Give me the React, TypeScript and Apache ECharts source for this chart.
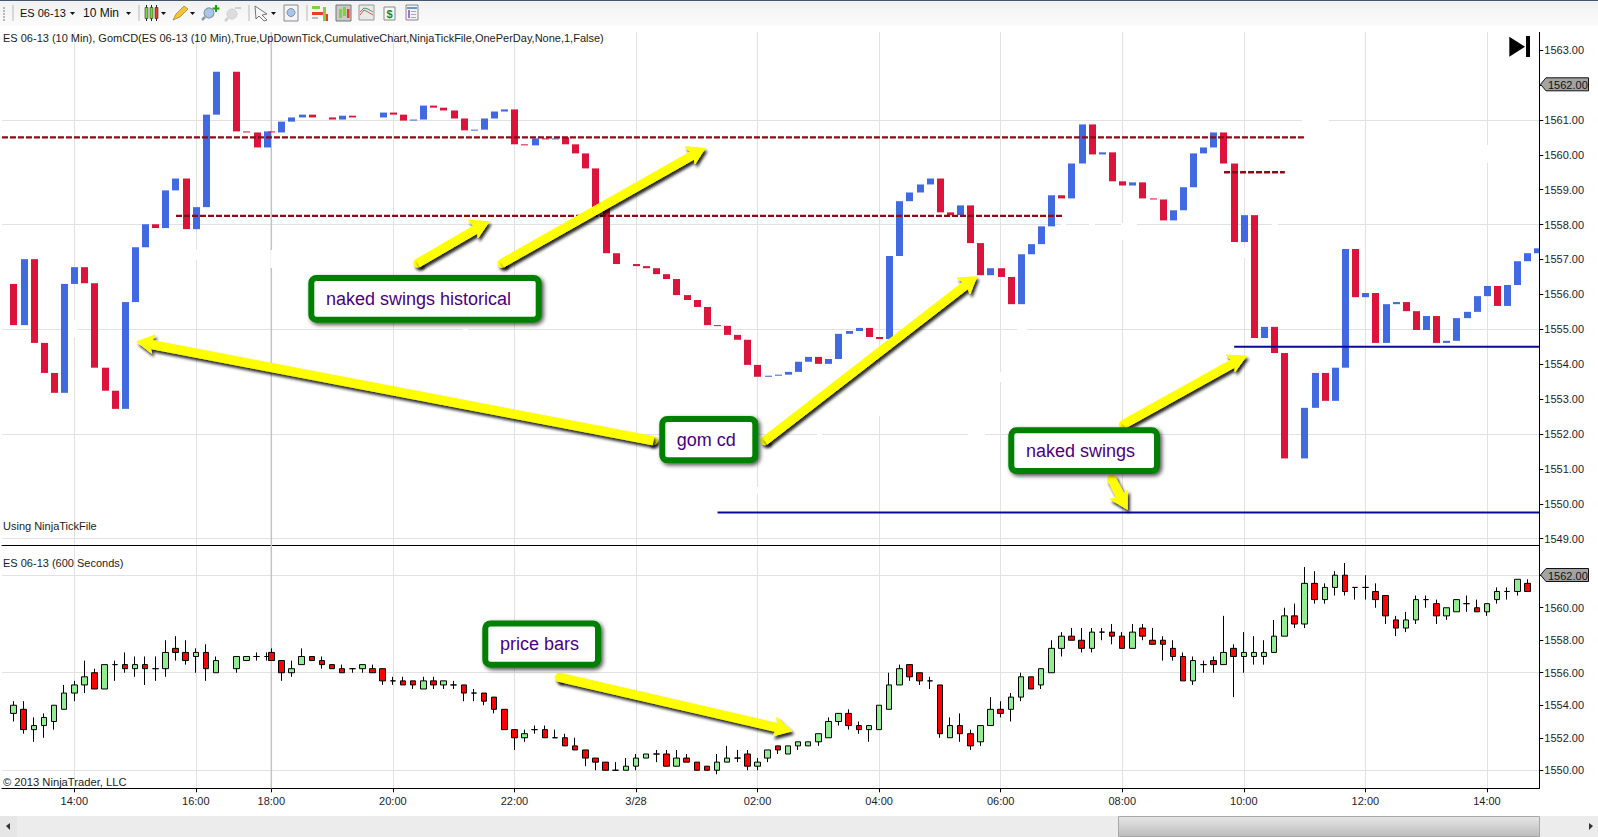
import React, { useEffect, useRef } from "react";
import * as echarts from "echarts";

// ---------- data ----------
type Pair = [number, number] | null;
type Ohlc = [number, number, number, number] | null;

// GomCD cumulative delta bars, drawn on the price scale: [open, close]
const gomBars: Pair[] = [
  [1556.3,1555.12],[1555.12,1557.01],[1557.01,1554.61],[1554.61,1553.75],[1553.75,1553.18],[1553.18,1556.3],[1556.3,1556.78],[1556.78,1556.32],
  [1556.32,1553.9],[1553.9,1553.24],[1553.24,1552.72],[1552.72,1555.78],[1555.78,1557.35],[1557.35,1558.01],[1558.01,1557.9],[1557.9,1558.98],
  [1558.98,1559.32],[1559.32,1557.87],[1557.87,1558.5],[1558.5,1561.15],[1561.15,1562.38],null,[1562.38,1560.67],[1560.67,1560.64],
  [1560.64,1560.21],[1560.21,1560.67],[1560.67,1560.64],[1560.64,1560.95],[1560.95,1561.07],[1561.07,1561.15],[1561.15,1561.07],null,
  [1561.07,1561.01],[1561.01,1561.12],[1561.12,1561.07],null,null,[1561.07,1561.21],[1561.21,1561.15],[1561.15,1560.98],
  [1560.98,1561.01],[1561.01,1561.41],[1561.41,1561.35],[1561.35,1561.27],[1561.27,1561.04],[1561.04,1560.7],[1560.7,1560.72],[1560.72,1561.04],
  [1561.04,1561.24],[1561.24,1561.3],[1561.3,1560.3],[1560.3,1560.27],[1560.27,1560.47],[1560.47,1560.44],[1560.44,1560.47],[1560.5,1560.3],
  [1560.3,1560.04],[1560.04,1559.61],[1559.61,1558.49],[1558.49,1557.18],[1557.18,1556.87],null,[1556.87,1556.81],[1556.81,1556.75],
  [1556.75,1556.58],[1556.58,1556.44],[1556.44,1555.98],[1555.98,1555.84],[1555.84,1555.64],[1555.64,1555.12],[1555.12,1555.1],[1555.1,1554.84],
  [1554.84,1554.7],[1554.7,1553.98],[1553.98,1553.64],[1553.64,1553.67],[1553.67,1553.7],[1553.7,1553.78],[1553.78,1554.07],[1554.07,1554.21],
  [1554.21,1554.01],[1554.01,1554.15],[1554.15,1554.87],[1554.87,1554.95],[1554.95,1555.04],[1555.04,1554.78],[1554.78,1554.72],[1554.72,1557.1],
  [1557.1,1558.67],[1558.67,1558.92],[1558.92,1559.15],[1559.15,1559.32],[1559.32,1558.35],[1558.35,1558.27],[1558.27,1558.55],[1558.55,1557.47],
  [1557.47,1556.55],[1556.55,1556.75],[1556.75,1556.5],[1556.5,1555.72],[1555.72,1557.15],[1557.15,1557.44],[1557.44,1557.95],[1557.95,1558.84],
  [1558.84,1558.75],[1558.75,1559.75],[1559.75,1560.87],[1560.87,1560.01],[1560.01,1560.07],[1560.07,1559.24],[1559.24,1559.12],[1559.12,1559.21],
  [1559.21,1558.75],[1558.75,1558.72],[1558.72,1558.12],[1558.12,1558.41],[1558.41,1559.07],[1559.07,1560.04],[1560.04,1560.21],[1560.21,1560.64],
  [1560.64,1559.75],[1559.75,1557.5],[1557.5,1558.27],[1558.27,1554.75],[1554.75,1555.07],[1555.07,1554.32],[1554.32,1551.3],null,
  [1551.3,1552.75],[1552.75,1553.75],[1553.75,1552.95],[1552.95,1553.9],[1553.9,1557.3],[1557.3,1555.92],[1555.92,1556.04],[1556.04,1554.61],
  [1554.61,1555.72],[1555.72,1555.78],[1555.78,1555.52],[1555.52,1554.98],[1554.98,1555.38],[1555.38,1554.61],[1554.61,1554.67],[1554.67,1555.32],
  [1555.32,1555.5],[1555.5,1555.95],[1555.95,1556.24],[1556.24,1555.67],[1555.67,1556.27],[1556.27,1556.95],[1556.95,1557.18],[1557.18,1557.32],
];

// ES 06-13 600-second candles: [open, high, low, close]
const priceBars: Ohlc[] = [
  [1553.5,1554.25,1553,1554],[1553.75,1554.25,1552.25,1552.5],[1552.5,1553.25,1551.75,1552.75],[1552.75,1553.5,1552,1553.25],
  [1553,1554,1552.5,1554],[1553.75,1555.25,1553.75,1554.75],[1554.75,1555.5,1554.25,1555.25],[1555.25,1556.75,1554.75,1555.75],
  [1556,1556.25,1555,1555],[1555,1556.5,1555,1556.5],[1556.5,1556.75,1555.5,1556.5],[1556.5,1557.25,1556,1556.25],
  [1556.25,1557,1555.75,1556.5],[1556.5,1557,1555.25,1556.25],[1556.25,1557,1555.5,1556.25],[1556.25,1558,1555.75,1557.25],
  [1557.5,1558.25,1556.75,1557.25],[1557.25,1558,1556.5,1556.75],[1557,1557.5,1556,1557.25],[1557.25,1557.75,1555.5,1556.25],
  [1556,1557,1556,1556.75],null,[1556.25,1557,1556,1557],[1556.75,1557,1556.75,1557],
  [1557,1557.25,1556.75,1557],[1557,1557.25,1556.75,1557],[1557.25,1557.5,1556.75,1556.75],[1556.75,1556.75,1555.5,1556],
  [1556,1556.75,1555.75,1556.25],[1556.5,1557.5,1556.5,1557],[1557,1557,1556.75,1556.75],[1556.75,1557,1556.25,1556.5],
  [1556.5,1556.5,1556.25,1556.25],[1556.25,1556.5,1556,1556],[1556.25,1556.25,1556,1556.25],[1556.25,1556.5,1556,1556.5],
  [1556.25,1556.5,1556,1556],[1556.25,1556.25,1555.25,1555.5],[1555.5,1555.75,1555.25,1555.5],[1555.5,1555.75,1555.25,1555.25],
  [1555.5,1555.5,1555,1555.25],[1555,1555.75,1555,1555.5],[1555.5,1555.75,1555,1555.25],[1555.25,1555.5,1555,1555.5],
  [1555.25,1555.5,1555,1555.25],[1555.25,1555.25,1554.25,1554.75],[1554.75,1555,1554.25,1554.75],[1554.75,1554.75,1554,1554.25],
  [1554.5,1554.5,1553.5,1553.75],[1553.75,1553.75,1552.5,1552.5],[1552.5,1552.5,1551.25,1552],[1552,1552.5,1551.75,1552.25],
  [1552.5,1552.75,1552.25,1552.5],[1552.5,1552.75,1552,1552],[1552,1552.5,1552,1552],[1552,1552.25,1551.5,1551.5],
  [1551.5,1552,1551.25,1551.25],[1551.25,1551.25,1550.25,1550.75],[1550.75,1550.75,1550,1550.5],[1550.5,1550.5,1550,1550],
  [1550,1550.5,1550,1550],[1550,1550.75,1550,1550.25],[1550.25,1551,1550,1550.75],[1550.75,1551,1550.75,1551],
  [1551,1551.25,1550.5,1551],[1551,1551.25,1550.25,1550.25],[1550.25,1551.25,1550.25,1550.75],[1550.75,1551,1550.5,1550.5],
  [1550.5,1550.5,1550,1550],[1550.25,1550.25,1550,1550],[1550,1551,1549.75,1550.5],[1550.5,1551.5,1550.5,1550.75],
  [1550.75,1551.25,1550.5,1550.75],[1551,1551.25,1550,1550.25],[1550.25,1550.75,1550,1550.5],[1550.75,1551.25,1550.5,1551.25],
  [1551.5,1551.5,1551,1551.25],[1551,1551.5,1551,1551.5],[1551.5,1551.75,1551.25,1551.75],[1551.5,1551.75,1551.5,1551.75],
  [1551.75,1552.25,1551.5,1552.25],[1552,1553.25,1552,1553],[1553,1553.5,1552.75,1553.5],[1553.5,1553.75,1552.5,1552.75],
  [1552.75,1553,1552.25,1552.5],[1552.5,1552.75,1551.75,1552.75],[1552.5,1554,1552.5,1554],[1553.75,1556,1553.75,1555.25],
  [1555.25,1556.5,1555.25,1556.25],[1556.5,1556.5,1555.5,1555.75],[1556,1556,1555.25,1555.5],[1555.5,1555.75,1555,1555.5],
  [1555.25,1555.25,1552,1552.25],[1552,1553.25,1552,1552.75],[1552.75,1553.5,1551.75,1552.25],[1552.25,1552.5,1551.25,1551.5],
  [1551.75,1552.75,1551.5,1552.75],[1552.75,1554.5,1552.75,1553.75],[1553.75,1554.25,1553.25,1553.5],[1553.75,1554.75,1553,1554.5],
  [1554.5,1556,1554.25,1555.75],[1555.75,1555.75,1555,1555],[1555.25,1556.25,1555,1556.25],[1556,1558,1556,1557.5],
  [1557.5,1558.5,1557,1558.25],[1558.25,1558.75,1558,1558],[1558,1558.75,1557.25,1557.5],[1557.5,1558.75,1557.25,1558.5],
  [1558.5,1558.75,1558,1558.5],[1558.5,1559,1557.75,1558.25],[1558.25,1558.5,1557.5,1557.5],[1557.5,1559,1557.5,1558.5],
  [1558.75,1559,1558,1558.25],[1558,1558.75,1557.75,1557.75],[1558,1558.25,1556.75,1557.75],[1557.5,1558,1556.75,1557],
  [1557,1557.25,1555.5,1555.5],[1555.5,1557,1555.25,1556.75],[1556.5,1556.75,1556,1556.5],[1556.75,1557,1556,1556.5],
  [1556.5,1559.5,1556.5,1557.25],[1557.5,1557.75,1554.5,1557],[1557,1558.5,1556,1557.25],[1557,1558.25,1556.5,1557.25],
  [1557,1558,1556.5,1557.25],[1557.25,1559.25,1557.25,1558.25],[1558.25,1560,1558.25,1559.5],[1559.5,1560.25,1558.75,1559],
  [1559,1562.5,1558.75,1561.5],[1561.5,1562.25,1560.25,1560.5],[1560.5,1561.5,1560.25,1561.25],[1561.25,1562.25,1560.75,1562],
  [1562,1562.75,1560.75,1561],[1561.25,1561.25,1560.5,1561.25],[1561.25,1562,1560.5,1561.25],[1561,1561.5,1560,1560.5],
  [1560.75,1560.75,1559,1559.5],[1559.25,1559.5,1558.25,1558.75],[1558.75,1559.75,1558.5,1559.25],[1559.25,1560.75,1559,1560.5],
  [1560.5,1560.75,1560,1560.5],[1560.25,1560.5,1559,1559.5],[1559.5,1560,1559.25,1560],[1559.75,1560.5,1559.75,1560.5],
  [1560.25,1560.75,1559.75,1560.25],[1560,1560.5,1559.75,1559.75],[1559.75,1560.25,1559.5,1560.25],[1560.5,1561.25,1560.25,1561],
  [1561,1561.25,1560.5,1561],[1561,1561.75,1560.75,1561.75],[1561.5,1561.75,1561,1561],
];

// horizontal swing levels: [start slot, end slot, price]
const historicalSwings: [number, number, number][] = [[-1.14, 127.4, 1560.5], [16.04, 103.6, 1558.25], [119.5, 125.5, 1559.5]];
const nakedSwings: [number, number, number][] = [[120.5, 150.62, 1554.5], [69.5, 150.62, 1549.75]];

// time-axis ticks: [slot, label]
const timeTicks: [number, string][] = [
  [6, "14:00"], [18, "16:00"], [25.45, "18:00"], [37.45, "20:00"], [49.45, "22:00"], [61.45, "3/28"], [73.45, "02:00"],
  [85.45, "04:00"], [97.45, "06:00"], [109.45, "08:00"], [121.45, "10:00"], [133.45, "12:00"], [145.45, "14:00"],
];
const sessionBreakSlot = 25.45;
const gomTicks = [1549, 1550, 1551, 1552, 1553, 1554, 1555, 1556, 1557, 1558, 1559, 1560, 1561, 1562, 1563];
const gomGrid = [1549, 1552, 1555, 1558, 1561];
const priceTicks = [1550, 1552, 1554, 1556, 1558, 1560, 1562];
const priceGrid = [1550, 1556, 1562];
const lastPriceValue = 1562;
const lastPrice = "1562.00";

const titleTop = "ES 06-13 (10 Min), GomCD(ES 06-13 (10 Min),True,UpDownTick,CumulativeChart,NinjaTickFile,OnePerDay,None,1,False)";
const noteTop = "Using NinjaTickFile";
const titleBottom = "ES 06-13 (600 Seconds)";
const copyright = "© 2013 NinjaTrader, LLC";

// one bar per number; the session break compresses the slots after bar 25
const slotOf = (i: number) => (i <= 25 ? i : i - 0.55);

const FONT = "'Liberation Sans', Arial, sans-serif";
const BLUE = "#4169E1";
const CRIMSON = "#DC143C";
const GRID = "#e2e2e2";
const X_MIN = -1.135;
const X_MAX = 150.62;

const r = (x: number, y: number, width: number, height: number, fill: string, extra: any = {}) => ({
  type: "rect", silent: true, shape: { x, y, width, height, ...(extra.shape || {}) }, style: { fill, ...(extra.style || {}) }, z: extra.z ?? 100,
});
const t = (text: string, x: number, y: number, size: number, fill = "#1c1c1c", extra: any = {}) => ({
  type: "text", silent: true, z: 110,
  style: { text, x, y, fontSize: size, fontFamily: FONT, fill, textVerticalAlign: "middle", textAlign: "left", ...extra },
});
const poly = (points: number[][], fill: string, extra: any = {}) => ({
  type: "polygon", silent: true, z: extra.z ?? 105, shape: { points }, style: { fill, ...(extra.style || {}) },
});
const line = (x1: number, y1: number, x2: number, y2: number, stroke: string, lineWidth = 1) => ({
  type: "line", silent: true, z: 105, shape: { x1, y1, x2, y2 }, style: { stroke, lineWidth },
});

function arrow(start: number[], tip: number[], w1: number[], w2: number[], half = 4.1) {
  const dx = tip[0] - start[0];
  const dy = tip[1] - start[1];
  const len = Math.hypot(dx, dy);
  const ux = dx / len, uy = dy / len;
  const nx = -uy, ny = ux;
  const headDist = ((w1[0] + w2[0]) / 2 - start[0]) * ux + ((w1[1] + w2[1]) / 2 - start[1]) * uy + 2;
  const jx = start[0] + ux * headDist, jy = start[1] + uy * headDist;
  const sameSide = (w1[0] - start[0]) * nx + (w1[1] - start[1]) * ny > 0;
  const a = sameSide ? w1 : w2;
  const b = sameSide ? w2 : w1;
  const pts = [
    [start[0] + nx * half, start[1] + ny * half],
    [jx + nx * half, jy + ny * half],
    a,
    tip,
    b,
    [jx - nx * half, jy - ny * half],
    [start[0] - nx * half, start[1] - ny * half],
  ];
  const shadow = { shadowBlur: 3, shadowColor: "rgba(0,0,0,0.85)", shadowOffsetX: 2, shadowOffsetY: 3 };
  return [
    { type: "circle", silent: true, z: 120, shape: { cx: start[0], cy: start[1], r: half + 0.4 }, style: { fill: "#FFFF00", ...shadow } },
    { type: "polygon", silent: true, z: 120, shape: { points: pts }, style: { fill: "#FFFF00", stroke: "#FFFF00", lineWidth: 1, lineJoin: "round", ...shadow } },
  ];
}

function callout(x1: number, y1: number, x2: number, y2: number, text: string, tx: number, ty: number) {
  return [
    {
      type: "rect", silent: true, z: 125,
      shape: { x: x1 + 3, y: y1 + 3, width: x2 - x1 - 6, height: y2 - y1 - 6, r: 5 },
      style: { fill: "#ffffff", stroke: "#008000", lineWidth: 6, shadowBlur: 4, shadowColor: "rgba(0,0,0,0.7)", shadowOffsetX: 2, shadowOffsetY: 2 },
    },
    { ...t(text, tx, ty, 18, "#4B0082"), z: 126 },
  ];
}

function caret(x: number, y: number) {
  return poly([[x, y], [x + 5, y], [x + 2.5, y + 3]], "#111");
}

function miniCandle(x: number, fill: string) {
  return [r(x + 1, 5, 1, 16, "#222"), r(x, 7.5, 3, 11, fill, { style: { stroke: "#333", lineWidth: 0.6 }, z: 101 })];
}

function toolbar() {
  const els: any[] = [];
  els.push({
    type: "rect", silent: true, z: 100, shape: { x: 0, y: 0, width: 1598, height: 26 },
    style: { fill: new echarts.graphic.LinearGradient(0, 0, 0, 1, [{ offset: 0, color: "#f1f1f1" }, { offset: 1, color: "#fbfbfb" }]) },
  });
  els.push(r(0, 0, 1598, 1, "#44566a"));
  for (let y = 7; y <= 19; y += 3) els.push(r(3, y, 2, 2, "#b8b8b8", { z: 101 }));
  for (const x of [12.5, 138.5, 248.5, 306.5]) els.push(r(x, 5, 1, 16, "#b9b9b9", { z: 101 }));
  els.push(t("ES 06-13", 20, 13, 11, "#111"));
  els.push(caret(70, 12));
  els.push(t("10 Min", 83, 13, 12, "#111"));
  els.push(caret(126, 12));
  // candlestick icon
  els.push(...miniCandle(145, "#7fd33a"), ...miniCandle(150, "#7fd33a"), ...miniCandle(155, "#ea3a2a"));
  els.push(caret(161, 12));
  // pencil
  els.push(poly([[173, 20], [176, 14], [184, 6], [188, 9], [180, 17]], "#f3c338", { style: { stroke: "#8a6a10", lineWidth: 0.6 } }));
  els.push(caret(190, 12));
  // zoom glass in / out
  els.push({ type: "circle", silent: true, z: 105, shape: { cx: 209, cy: 13, r: 5 }, style: { fill: "#a9c6ea", stroke: "#8d99a8", lineWidth: 1.2 } });
  els.push(line(205, 17, 202, 20, "#8d99a8", 2.5));
  els.push(r(215, 5, 2, 7, "#16a316"), r(212.5, 7.5, 7, 2, "#16a316"));
  els.push({ type: "circle", silent: true, z: 105, shape: { cx: 232, cy: 14, r: 5 }, style: { fill: "#dcdcdc", stroke: "#cfcfcf", lineWidth: 1 } });
  els.push(line(228, 18, 225, 21, "#cfcfcf", 2.5), r(235, 7, 6, 2, "#cfcfcf"));
  // cursor
  els.push(poly([[255, 6], [267, 14], [262, 15], [267, 20], [264, 21], [259, 16], [256, 19]], "#f7f7f7", { style: { stroke: "#555", lineWidth: 0.8 } }));
  els.push(caret(271, 12));
  // box + glass
  els.push(r(284, 5, 14, 16, "#f4f4f4", { style: { stroke: "#8a8a8a", lineWidth: 1 } }));
  els.push({ type: "circle", silent: true, z: 106, shape: { cx: 291, cy: 12.5, r: 4 }, style: { fill: "#a9c6ea", stroke: "#7e93a8", lineWidth: 1 } });
  // bars icon
  els.push(r(312, 6, 8, 3, "#7fd33a"), r(312, 12, 11, 3, "#ea3a2a"), r(312, 17, 6, 2, "#bdbdbd"));
  els.push(r(323, 7, 3, 14, "#7fd33a"), r(326, 14, 2, 7, "#ea3a2a"));
  // chart icons
  els.push(r(336, 5, 15, 16, "#c9c9c9", { style: { stroke: "#777", lineWidth: 1 } }));
  els.push(r(339, 9, 3, 9, "#7fd33a"), r(343, 7, 3, 9, "#7fd33a"), r(347, 9, 2.5, 9, "#ea3a2a"));
  els.push(r(359, 5, 15, 15, "#e9e9e9", { style: { stroke: "#999", lineWidth: 1 } }));
  els.push({ type: "polyline", silent: true, z: 106, shape: { points: [[360, 15], [364, 10], [368, 12], [373, 15]] }, style: { stroke: "#e05050", fill: "none", lineWidth: 1 } });
  els.push({ type: "polyline", silent: true, z: 106, shape: { points: [[360, 12], [364, 8], [368, 9], [373, 12]] }, style: { stroke: "#3fa060", fill: "none", lineWidth: 1 } });
  els.push(r(384, 7, 11, 13, "#fafafa", { style: { stroke: "#888", lineWidth: 1 } }));
  els.push({ ...t("$", 386.5, 14, 11, "#1a8a1a", { fontWeight: "bold" }) });
  els.push(r(406, 5, 12, 15, "#f1f1f8", { style: { stroke: "#888", lineWidth: 1 } }));
  els.push(r(407, 7, 10, 2, "#5f9ed0"), r(408, 10, 2, 8, "#a26ee0"), r(411, 11, 5, 1, "#aaa"), r(411, 14, 5, 1, "#aaa"), r(411, 17, 5, 1, "#aaa"));
  return els;
}

function bottomBar() {
  const els: any[] = [];
  els.push(r(0, 816, 1598, 21, "#ececec"));
  els.push(r(0, 816, 17, 21, "#e6e6e6", { z: 101 }));
  els.push(poly([[6, 826], [10, 823], [10, 830]], "#333"));
  els.push(poly([[1593, 826], [1589, 823], [1589, 830]], "#333"));
  els.push({
    type: "rect", silent: true, z: 101, shape: { x: 1118.5, y: 816.5, width: 421, height: 20 },
    style: { fill: new echarts.graphic.LinearGradient(0, 0, 0, 1, [{ offset: 0, color: "#e6e6e6" }, { offset: 1, color: "#bcbcbc" }]), stroke: "#a8a8a8", lineWidth: 1 },
  });
  for (const x of [1326, 1328, 1330, 1332]) els.push(r(x, 823, 1, 7, "#555"));
  return els;
}

function priceTag(y: number) {
  return [
    poly([[1540.5, y], [1546, y - 6.5], [1588.5, y - 6.5], [1588.5, y + 6.5], [1546, y + 6.5]], "#a3a3a3", { style: { stroke: "#111", lineWidth: 1 } }),
    t(lastPrice, 1548, y + 0.5, 11, "#111"),
  ];
}

// small white erasures on the grid left in the screenshot
function gridErasures() {
  const v = [[195, 250, 10], [270.5, 250, 18], [73, 320, 17], [757, 487, 7], [878, 365, 51], [1000, 372, 10], [1121, 223, 17], [1243, 248, 10], [1486, 145, 18]];
  const h = [[1061, 223, 5], [1089, 223, 6], [1122, 223, 15], [1272, 223, 6], [1302, 118, 27], [1017, 328, 10], [68, 328, 10], [463, 328, 5], [817, 432, 5], [968, 432, 17]];
  return [
    ...v.map(([x, y, l]) => r(x, y, 3, l, "#fff", { z: 2 })),
    ...h.map(([x, y, l]) => r(x, y, l, 3, "#fff", { z: 2 })),
  ];
}

const App = () => {
  const ref = useRef<HTMLDivElement>(null);
  useEffect(() => {
    document.body.style.margin = "0";
    document.documentElement.style.overflow = "hidden";
    const chart = echarts.init(ref.current!, undefined, { renderer: "svg" });

    const gomData = gomBars.map((b, i) => (b ? [slotOf(i), b[0], b[1]] : null)).filter(Boolean);
    const candleData = priceBars
      .map((b, i) => (b ? [slotOf(i), b[0], b[3], b[2], b[1]] : null))
      .filter(Boolean);

    const tickValues = timeTicks.map((d) => d[0]);
    const labelFor = (v: number) => {
      const hit = timeTicks.find((d) => Math.abs(d[0] - v) < 0.01);
      return hit ? hit[1] : "";
    };
    const levelSeries = (rows: [number, number, number][], color: string, type: any, width: number) =>
      rows.map((row) => ({
        type: "line", xAxisIndex: 0, yAxisIndex: 0, showSymbol: false, silent: true, z: 6,
        data: [[row[0], row[2]], [row[1], row[2]]],
        lineStyle: { color, width, type },
      }));
    const breakLine = (xi: number, yi: number, lo: number, hi: number) => ({
      type: "line", xAxisIndex: xi, yAxisIndex: yi, showSymbol: false, silent: true, z: 1,
      data: [[sessionBreakSlot, lo], [sessionBreakSlot, hi]],
      lineStyle: { color: "#c4c4c4", width: 1.5 },
    });

    const xBase = { type: "value", min: X_MIN, max: X_MAX, scale: true };
    const TOP_MIN = 1548.82, TOP_MAX = 1563.69, BOT_MIN = 1548.89, BOT_MAX = 1563.86;
    const hiddenY = (gridIndex: number, min: number, max: number, vals: number[]) => ({
      type: "value", gridIndex, min, max, scale: true, position: "left",
      axisLine: { show: false }, axisLabel: { show: false },
      axisTick: { show: false, customValues: vals },
      splitLine: { show: true, lineStyle: { color: GRID, width: 1 } },
    });
    const shownY = (gridIndex: number, min: number, max: number, vals: number[], padTop: number) => ({
      type: "value", gridIndex, min, max, scale: true, position: "right",
      axisLine: { show: true, onZero: false, lineStyle: { color: "#000", width: 1 } },
      axisTick: { show: true, length: 4, customValues: vals, lineStyle: { color: "#000" } },
      axisLabel: {
        show: true, fontFamily: FONT, fontSize: 11, color: "#1c1c2c", margin: 5, padding: [padTop, 0, 0, 0],
        // the last price is carried by its grey tag instead of a plain label
        customValues: vals.filter((v) => v !== lastPriceValue),
        formatter: (v: number) => v.toFixed(2),
      },
      splitLine: { show: false },
    });

    chart.setOption({
      animation: false,
      backgroundColor: "#ffffff",
      grid: [
        { left: 2, width: 1537.3, top: 26, height: 519, containLabel: false },
        { left: 2, width: 1537.3, top: 545, height: 243.3, containLabel: false },
      ],
      xAxis: [
        {
          ...xBase, gridIndex: 0,
          axisLine: { show: true, onZero: false, lineStyle: { color: "#000", width: 1 } },
          axisTick: { show: false, customValues: tickValues },
          axisLabel: { show: false },
          splitLine: { show: true, lineStyle: { color: GRID, width: 1 } },
        },
        {
          ...xBase, gridIndex: 1,
          axisLine: { show: true, onZero: false, lineStyle: { color: "#000", width: 1 } },
          axisTick: { show: true, length: 4, customValues: tickValues, lineStyle: { color: "#000" } },
          axisLabel: { show: true, customValues: tickValues, formatter: labelFor, fontFamily: FONT, fontSize: 11, color: "#1c1c2c", margin: 7, hideOverlap: false },
          splitLine: { show: true, lineStyle: { color: GRID, width: 1 } },
        },
      ],
      yAxis: [
        shownY(0, TOP_MIN, TOP_MAX, gomTicks, 0),
        hiddenY(0, TOP_MIN, TOP_MAX, gomGrid),
        shownY(1, BOT_MIN, BOT_MAX, priceTicks, 2),
        hiddenY(1, BOT_MIN, BOT_MAX, priceGrid),
      ],
      series: [
        breakLine(0, 0, TOP_MIN, TOP_MAX),
        breakLine(1, 2, BOT_MIN, BOT_MAX),
        {
          type: "custom", xAxisIndex: 0, yAxisIndex: 0, z: 4, clip: true, silent: true,
          encode: { x: 0, y: [1, 2] },
          data: gomData,
          renderItem: (_p: any, api: any) => {
            const x = api.value(0), o = api.value(1), c = api.value(2);
            const a = api.coord([x, o]), b = api.coord([x, c]);
            const w = 7;
            const top = Math.min(a[1], b[1]);
            const h = Math.max(Math.abs(a[1] - b[1]), 1);
            const rect = echarts.graphic.clipRectByRect(
              { x: Math.round(a[0] - w / 2 + 0.4), y: top, width: w, height: h },
              { x: _p.coordSys.x, y: _p.coordSys.y, width: _p.coordSys.width, height: _p.coordSys.height },
            );
            return rect ? { type: "rect", shape: rect, style: { fill: c >= o ? BLUE : CRIMSON } } : null;
          },
        },
        ...levelSeries(historicalSwings, "#8B0A14", [6, 2], 2.4),
        ...levelSeries(nakedSwings, "#0A0A96", "solid", 2),
        {
          type: "candlestick", xAxisIndex: 1, yAxisIndex: 2, z: 4, silent: true,
          barWidth: 6,
          encode: { x: 0, y: [1, 2, 3, 4] },
          data: candleData,
          itemStyle: {
            color: "#90EE90", color0: "#FF0000",
            borderColor: "#000", borderColor0: "#000", borderColorDoji: "#000", borderWidth: 1,
          },
        },
      ],
      graphic: {
        elements: [
          ...gridErasures(),
          r(0, 26, 1598, 6, "#ffffff", { z: 90 }),
          ...toolbar(),
          ...bottomBar(),
          t(titleTop, 3, 38, 11),
          t(noteTop, 3, 526, 11),
          t(titleBottom, 3, 563, 11),
          t(copyright, 3, 782, 11.2),
          // go-to-end glyph
          poly([[1509.3, 36.7], [1509.3, 56.7], [1525, 46.7]], "#000"),
          r(1526, 36, 4, 21, "#000"),
          ...priceTag(84.3),
          ...priceTag(575),
          // annotations
          ...arrow([418, 263], [489, 221.7], [468, 220], [478, 238]),
          ...arrow([502, 263.3], [705, 148.3], [685, 146.7], [695, 164]),
          ...arrow([653, 440.7], [136.7, 341.7], [155, 335], [151.7, 353.3]),
          ...arrow([765, 440.7], [976.7, 276.7], [957, 278], [970, 294]),
          ...arrow([1123.6, 424.3], [1246.4, 356], [1226.2, 355], [1235, 371.7]),
          ...arrow([1111.7, 479], [1127.3, 509.3], [1110, 499], [1127.3, 490]),
          ...arrow([559.3, 677.3], [791.7, 731], [776.7, 717.3], [772.7, 736]),
          ...callout(308.3, 275, 541.7, 322.7, "naked swings historical", 326, 299),
          ...callout(482.3, 620.5, 601, 667.7, "price bars", 500, 644),
          ...callout(659.3, 416, 758.3, 463.3, "gom cd", 676.7, 440),
          ...callout(1008.3, 427.3, 1160, 474, "naked swings", 1026, 450.7),
        ],
      },
    });
    return () => chart.dispose();
  }, []);
  return <div ref={ref} style={{ width: 1598, height: 837 }} />;
};

export default App;
